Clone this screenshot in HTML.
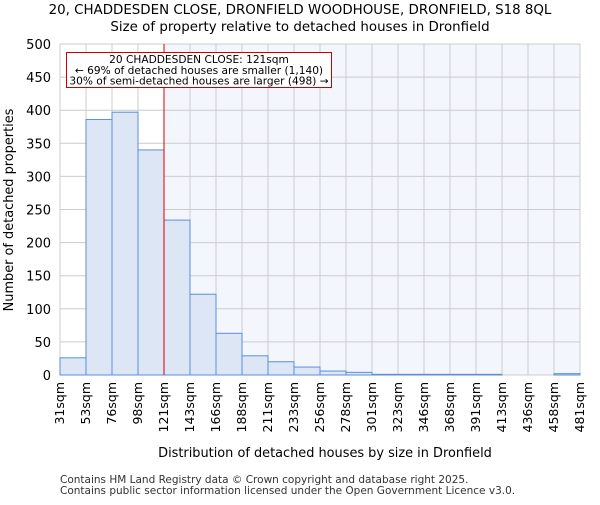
<!DOCTYPE html>
<html><head><meta charset="utf-8"><style>
body{margin:0;background:#fff;font-family:"Liberation Sans","DejaVu Sans",sans-serif}
</style></head><body>
<svg id="chart" width="600" height="500" xmlns="http://www.w3.org/2000/svg" font-family="DejaVu Sans, Liberation Sans, sans-serif">
<text x="300" y="14" text-anchor="middle" font-size="13.4">20, CHADDESDEN CLOSE, DRONFIELD WOODHOUSE, DRONFIELD, S18 8QL</text>
<text x="300" y="31" text-anchor="middle" font-size="13.4">Size of property relative to detached houses in Dronfield</text>
<g id="plot"></g>
<text x="325" y="457" text-anchor="middle" font-size="12.9">Distribution of detached houses by size in Dronfield</text>
<text transform="translate(13,210) rotate(-90)" text-anchor="middle" font-size="12.9">Number of detached properties</text>
<text x="60" y="483" font-size="10.5" fill="#333">Contains HM Land Registry data © Crown copyright and database right 2025.</text>
<text x="60" y="494" font-size="10.5" fill="#333">Contains public sector information licensed under the Open Government Licence v3.0.</text>
</svg>
<script>
const categories=["31sqm","53sqm","76sqm","98sqm","121sqm","143sqm","166sqm","188sqm","211sqm","233sqm","256sqm","278sqm","301sqm","323sqm","346sqm","368sqm","391sqm","413sqm","436sqm","458sqm","481sqm"];
const counts=[26,386,397,340,234,122,63,29,20,12,6,4,1,1,1,1,1,0,0,2];
const yTicks=[0,50,100,150,200,250,300,350,400,450,500];
const markerIndex=4;
const L=60,R=580,T=44,B=375,NS="http://www.w3.org/2000/svg";
const bw=(R-L)/counts.length;
const xs=i=>L+i*bw;
const ys=v=>B-(v/500)*(B-T);
const g=document.getElementById('plot');
function mk(t,a){const e=document.createElementNS(NS,t);for(const k in a)e.setAttribute(k,a[k]);g.appendChild(e);return e;}
let e;
e=mk('rect',{x:L,y:T,width:R-L,height:B-T,fill:'#fff'});


e=mk('rect',{x:xs(markerIndex),y:T,width:R-xs(markerIndex),height:B-T,fill:'#f3f6fd'});


yTicks.forEach(v=>{
 e=mk('line',{x1:L,x2:R,y1:ys(v),y2:ys(v),stroke:'#ccc','stroke-width':1});
 
 
 e=mk('text',{x:L-9,y:ys(v)+5,'text-anchor':'end','font-size':'13'});e.textContent=v;
 
 
});
categories.forEach((c,i)=>{
 e=mk('line',{x1:xs(i),x2:xs(i),y1:T,y2:B,stroke:'#ccc','stroke-width':1});
 
 
 const x=xs(i)+4;
 e=mk('text',{x:0,y:0,transform:`translate(${x},${B+7}) rotate(-90)`,'text-anchor':'end','font-size':'12.5'});e.textContent=c;
 
 
});
counts.forEach((v,i)=>{
 if(v<=0)return;
 e=mk('rect',{x:xs(i),y:ys(v),width:bw,height:B-ys(v),fill:'#dce6f5',stroke:'#5b8fd6','stroke-width':1});
 
 
});
e=mk('line',{x1:xs(markerIndex),x2:xs(markerIndex),y1:T,y2:B,stroke:'#d00','stroke-width':1});


e=mk('rect',{x:66.5,y:52.5,width:265,height:35,fill:'#fff',stroke:'#c00','stroke-width':1});


[["20 CHADDESDEN CLOSE: 121sqm",63],["← 69% of detached houses are smaller (1,140)",74],["30% of semi-detached houses are larger (498) →",84.5]].forEach(([t,y])=>{
 e=mk('text',{x:199,y:y,'text-anchor':'middle','font-size':'10.6'});e.textContent=t;
 
 
});
</script>
</body></html>
